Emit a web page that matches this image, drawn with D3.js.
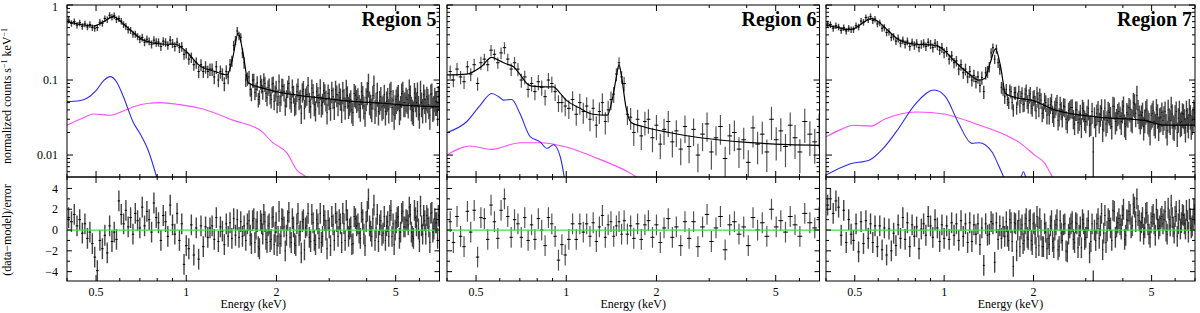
<!DOCTYPE html>
<html lang="en">
<head>
  <meta charset="UTF-8">
  <title>Spectra of regions 5, 6 and 7</title>
  <script src="https://cdn.jsdelivr.net/npm/d3@7"></script>
</head>

<style>
body { margin: 0; background: #fff; }
text { font-family: "Liberation Serif", "Times New Roman", serif; fill: #000; }
</style>

<body>

  <svg width="1200" height="313"></svg>

  <script>

    var regionNames = ["Region 5", "Region 6", "Region 7"];
    var xMajor = [0.5, 1, 2, 5];
    var yMajor = [0.01, 0.1, 1];
    var residTicks = [-4, -2, 0, 2, 4];

    // channel energies (keV); regions 5 and 7 share the finer grouping
    var fineEnergy = [
      0.405,0.414,0.423,0.432,0.441,0.45,0.459,0.468,0.477,0.486,
      0.495,0.505,0.515,0.525,0.535,0.545,0.555,0.565,0.575,0.585,
      0.596,0.607,0.618,0.629,0.64,0.652,0.664,0.676,0.688,0.70,
      0.713,0.726,0.739,0.752,0.766,0.78,0.794,0.808,0.823,0.838,
      0.853,0.868,0.884,0.90,0.916,0.932,0.949,0.966,0.983,1.0,
      1.02,1.04,1.06,1.08,1.1,1.12,1.14,1.16,1.18,1.2,
      1.22,1.24,1.26,1.28,1.3,1.32,1.34,1.36,1.38,1.4,
      1.42,1.44,1.46,1.48,1.5,1.52,1.54,1.56,1.58,1.6,
      1.62,1.65,1.68,1.71,1.74,1.77,1.8,1.83,1.86,1.89,
      1.92,1.95,1.98,2.01,2.04,2.07,2.1,2.14,2.18,2.22,
      2.26,2.3,2.34,2.38,2.42,2.46,2.5,2.55,2.6,2.65,
      2.7,2.75,2.8,2.85,2.9,2.95,3.0,3.06,3.12,3.18,
      3.24,3.3,3.36,3.42,3.48,3.54,3.6,3.67,3.74,3.81,
      3.88,3.95,4.02,4.09,4.16,4.23,4.3,4.38,4.46,4.54,
      4.62,4.7,4.78,4.86,4.94,5.02,5.1,5.19,5.28,5.37,
      5.46,5.55,5.64,5.73,5.82,5.91,6.0,6.1,6.2,6.3,
      6.4,6.5,6.6,6.7,6.8,6.9,6.98
    ];
    // extra channels above 1.6 keV, where the grouping is finer still
    var hardEnergy = [
      1.635,1.665,1.695,1.725,1.755,1.785,1.815,1.845,1.875,1.905,
      1.935,1.965,1.995,2.025,2.055,2.085,2.12,2.16,2.2,2.24,
      2.28,2.32,2.36,2.4,2.44,2.48,2.525,2.575,2.625,2.675,
      2.725,2.775,2.825,2.875,2.925,2.975,3.03,3.09,3.15,3.21,
      3.27,3.33,3.39,3.45,3.51,3.57,3.635,3.705,3.775,3.845,
      3.915,3.985,4.055,4.125,4.195,4.265,4.34,4.42,4.5,4.58,
      4.66,4.74,4.82,4.9,4.98,5.06,5.145,5.235,5.325,5.415,
      5.505,5.595,5.685,5.775,5.865,5.955,6.05,6.15,6.25,6.35,
      6.45,6.55,6.65,6.75,6.85,6.94
    ];

    var coarseEnergy = [
      0.41,0.42,0.432,0.444,0.456,0.468,0.48,0.493,0.506,0.519,
      0.533,0.547,0.561,0.576,0.591,0.606,0.622,0.638,0.655,0.672,
      0.69,0.708,0.727,0.746,0.766,0.786,0.807,0.828,0.85,0.872,
      0.895,0.918,0.942,0.967,0.992,1.02,1.05,1.08,1.11,1.14,
      1.17,1.2,1.23,1.26,1.29,1.32,1.35,1.38,1.41,1.44,
      1.47,1.5,1.53,1.56,1.6,1.64,1.68,1.73,1.78,1.83,
      1.88,1.94,2.0,2.06,2.12,2.19,2.26,2.33,2.41,2.49,
      2.57,2.66,2.75,2.85,2.95,3.05,3.16,3.27,3.39,3.51,
      3.64,3.77,3.91,4.05,4.2,4.35,4.51,4.67,4.84,5.02,
      5.2,5.39,5.59,5.8,6.02,6.25,6.5,6.75,6.98
    ];

    // Region 5: normalized counts s^-1 keV^-1, error (%), (data-model)/error
    var r5Counts = [
      0.63,0.57,0.60,0.54,0.58,0.52,0.56,0.51,0.55,0.50,
      0.49,0.50,0.59,0.57,0.66,0.64,0.73,0.69,0.72,0.64,
      0.66,0.61,0.55,0.52,0.47,0.46,0.41,0.41,0.38,0.35,
      0.37,0.32,0.35,0.33,0.30,0.34,0.32,0.32,0.28,0.33,
      0.32,0.29,0.34,0.31,0.28,0.32,0.27,0.28,0.22,0.23,
      0.19,0.20,0.16,0.17,0.13,0.16,0.13,0.15,0.13,0.14,
      0.14,0.11,0.15,0.10,0.13,0.12,0.09,0.13,0.11,0.16,
      0.18,0.29,0.34,0.45,0.39,0.37,0.23,0.17,0.10,0.105,
      0.11,0.065,0.10,0.075,0.055,0.095,0.07,0.09,0.058,0.085,
      0.055,0.09,0.068,0.048,0.095,0.06,0.082,0.045,0.078,0.056,
      0.08,0.045,0.07,0.055,0.036,0.075,0.06,0.085,0.044,0.068,
      0.04,0.062,0.078,0.05,0.067,0.037,0.058,0.072,0.043,0.064,
      0.068,0.04,0.057,0.076,0.045,0.055,0.037,0.063,0.058,0.042,
      0.062,0.036,0.07,0.052,0.042,0.085,0.05,0.038,0.06,0.046,
      0.038,0.058,0.066,0.043,0.034,0.055,0.063,0.045,0.07,0.05,
      0.055,0.075,0.044,0.038,0.058,0.068,0.035,0.05,0.064,0.042,
      0.056,0.034,0.066,0.045,0.052,0.038,0.06
    ];
    var r5Err = [
      10,10,10,10,10,10,10,10,10,10, 10,10,10,10,10,10,10,10,10,10,
      10,10,10,11,11,11,11,11,11,12, 12,12,12,12,12,13,13,13,13,13,
      13,13,14,14,14,14,15,15,15,16, 16,16,17,17,18,18,18,19,19,19,
      19,20,20,20,20,20,21,21,20,19, 17,15,14,13,13,14,15,17,19,20,
      20,20,21,21,22,22,22,23,23,23, 24,24,24,25,25,25,26,26,26,27,
      27,27,28,28,28,29,29,29,30,30, 30,30,31,31,31,31,32,32,32,32,
      32,33,33,33,33,33,34,34,34,34, 34,34,34,35,35,35,35,35,35,35,
      35,35,36,36,36,36,36,36,36,36, 36,36,36,36,36,36,36,36,36,36,
      36,36,36,36,36,36,36
    ];
    var r5Resid = [
      1.2,0.8,1.5,0.4,1.0,-0.3,0.6,-0.8,-0.2,-1.3,
      -2.6,-3.9,-1.0,-1.8,-0.5,-2.2,0.4,-1.1,-0.2,-0.9,
      2.8,1.5,0.6,1.9,0.3,1.2,-0.4,1.6,0.9,0.2,
      2.2,0.4,1.8,1.0,-0.2,2.6,1.2,0.7,-1.0,1.4,
      0.8,-0.6,2.4,0.5,-0.4,1.6,-1.0,0.6,-3.3,-1.5,
      -1.8,0.5,-2.4,0.2,-2.8,0.4,-1.6,0.3,-0.7,0.2,
      0.4,-0.9,1.2,-1.1,0.3,-0.1,-1.4,0.6,-0.6,0.7,
      -0.8,1.1,-0.5,1.0,-0.7,0.8,-0.6,0.4,-1.0,0.6,
      0.9,-1.3,1.1,0.1,-1.6,0.9,-0.4,0.8,-1.2,0.6,
      -0.9,1.3,-0.2,-1.5,1.8,-0.6,1.0,-2.0,0.9,-0.7,
      1.1,-1.3,0.6,-0.5,-2.2,1.0,0.2,1.6,-1.1,0.7,
      -1.4,0.6,1.6,-0.6,0.9,-1.8,0.2,1.3,-1.0,0.8,
      1.0,-1.2,0.6,1.9,-0.6,0.3,-1.3,1.1,0.6,-0.8,
      1.0,-1.5,1.8,0.4,-0.6,2.4,0.2,-1.1,0.9,-0.3,
      -1.0,0.8,1.4,-0.6,-1.4,0.7,1.3,-0.2,1.8,0.3,
      0.9,2.2,-0.2,-0.8,1.2,1.8,-1.1,0.4,1.4,-0.4,
      1.1,-1.2,1.7,0.1,0.7,-0.8,1.3
    ];
    var r5HardCounts = [
      0.075,0.1,0.068,0.092,0.06,0.085,0.1,0.066,0.08,0.062,
      0.088,0.052,0.078,0.06,0.05,0.083,0.07,0.058,0.09,0.05,
      0.066,0.048,0.082,0.058,0.07,0.042,0.064,0.052,0.078,0.047,
      0.07,0.05,0.046,0.072,0.055,0.066,0.042,0.06,0.074,0.049,
      0.058,0.071,0.044,0.062,0.05,0.04,0.066,0.055,0.047,0.07,
      0.045,0.058,0.09,0.047,0.062,0.04,0.068,0.053,0.044,0.064,
      0.052,0.041,0.07,0.054,0.046,0.06,0.039,0.066,0.05,0.058,
      0.048,0.062,0.04,0.067,0.05,0.045,0.072,0.041,0.055,0.06,
      0.047,0.064,0.043,0.058,0.052,0.061
    ];
    var r5HardErr = [
      20,21,21,22,22,22,23,23,23,24, 24,24,25,25,25,26,26,26,27,27,
      27,28,28,28,29,29,29,30,30,30, 30,31,31,31,31,32,32,32,32,33,
      33,33,33,33,33,34,34,34,34,34, 34,34,35,35,35,35,35,35,35,35,
      35,36,36,36,36,36,36,36,36,36, 36,36,36,36,36,36,36,36,36,36,
      36,36,36,36,36,36
    ];
    var r5HardResid = [
      -0.5,0.9,-1.2,0.8,-1.8,0.6,1.5,-0.9,0.4,-1.1,
      1.2,-1.4,0.7,-0.6,-1.3,1.1,0.3,-0.5,1.7,-1.2,
      0.3,-1.5,1.6,-0.1,0.8,-1.9,0.4,-0.7,1.5,-1.0,
      1.0,-0.8,-1.2,1.4,0.0,0.9,-1.5,0.5,1.6,-0.6,
      0.6,1.6,-1.0,1.0,0.1,-1.4,1.3,0.4,-0.3,1.7,
      -0.4,0.8,3.0,-0.1,1.1,-1.0,1.5,0.5,-0.5,1.3,
      0.4,-0.6,1.9,0.6,0.0,1.2,-0.8,1.6,0.3,1.0,
      0.5,1.5,-0.6,1.9,0.4,0.1,2.3,-0.4,0.9,1.4,
      0.3,1.6,-0.2,1.1,0.7,1.4
    ];
    // model curves [keV, value]: total, soft (blue) and hot (magenta) components
    var r5Model = [[0.40,0.60],[0.45,0.545],[0.49,0.525],[0.53,0.60],[0.57,0.70],[0.62,0.55],[0.67,0.42],
      [0.72,0.34],[0.78,0.31],[0.85,0.30],[0.92,0.30],[1.0,0.24],[1.11,0.155],[1.25,0.13],[1.37,0.117],
      [1.43,0.2],[1.49,0.42],[1.55,0.22],[1.61,0.092],[1.8,0.078],[2.0,0.070],[2.34,0.063],[3.0,0.056],
      [3.8,0.051],[4.56,0.049],[5.5,0.046],[7.0,0.044]];
    var r5Soft = [[0.40,0.0515],[0.44,0.053],[0.466,0.057],[0.50,0.072],[0.53,0.098],[0.557,0.111],
      [0.585,0.095],[0.617,0.06],[0.667,0.0267],[0.70,0.0195],[0.75,0.011],[0.80,0.0048]];
    var r5Hot = [[0.40,0.025],[0.45,0.031],[0.49,0.0352],[0.557,0.034],[0.62,0.039],[0.667,0.044],
      [0.75,0.049],[0.818,0.050],[0.95,0.047],[1.11,0.042],[1.44,0.029],[1.79,0.0205],[1.93,0.015],
      [2.17,0.0106],[2.34,0.0063],[2.5,0.0052],[2.63,0.0047]];

    // Region 6
    var r6Counts = [
      0.13,0.10,0.14,0.11,0.095,0.15,0.12,0.16,0.09,0.17,
      0.19,0.16,0.25,0.22,0.17,0.23,0.27,0.19,0.14,0.17,
      0.14,0.10,0.11,0.075,0.09,0.07,0.095,0.08,0.06,0.10,
      0.09,0.07,0.05,0.05,0.045,0.042,0.055,0.035,0.05,0.038,
      0.045,0.03,0.042,0.025,0.038,0.05,0.028,0.04,0.055,0.065,
      0.12,0.17,0.11,0.09,0.035,0.032,0.02,0.03,0.018,0.028,
      0.03,0.017,0.025,0.014,0.022,0.028,0.015,0.021,0.012,0.024,
      0.013,0.022,0.01,0.019,0.026,0.011,0.017,0.024,0.009,0.018,
      0.02,0.012,0.016,0.008,0.023,0.014,0.019,0.011,0.03,0.016,
      0.021,0.013,0.025,0.017,0.011,0.028,0.019,0.015,0.024
    ];
    var r6Err = [
      20,20,20,20,20,20,20,20,20,20, 18,18,17,17,17,18,18,18,19,19,
      20,21,21,22,22,23,23,23,24,24, 24,25,25,26,27,28,29,30,31,31,
      31,31,32,32,32,33,33,32,28,24, 20,18,19,22,28,32,34,34,35,35,
      36,36,37,37,38,38,38,39,39,40, 40,40,41,41,42,42,42,43,43,44,
      44,44,45,45,45,46,46,46,47,47, 47,47,48,48,48,48,49,49,49
    ];
    var r6Resid = [
      0.8,-1.2,1.3,-0.6,-1.6,1.8,-0.2,1.9,-2.6,1.2,
      1.1,-0.9,2.4,0.8,-0.8,1.9,3.0,1.3,-0.7,1.0,
      0.6,-0.7,1.2,-1.0,0.5,-0.9,1.1,0.0,-1.5,1.2,
      0.6,-0.6,-2.9,-1.4,-2.4,-0.9,0.6,-0.9,0.6,-0.2,
      0.6,-0.6,0.7,-1.1,0.3,1.4,-0.7,0.5,0.8,-0.6,
      0.4,0.8,-0.4,0.9,-0.4,0.4,-0.8,0.6,-0.9,0.5,
      0.9,-0.7,0.5,-1.2,0.2,1.1,-0.7,0.3,-1.5,0.8,
      -0.8,0.8,-1.6,0.3,1.5,-1.1,0.2,1.3,-1.9,0.5,
      0.8,-0.4,0.3,-1.5,1.2,0.0,0.7,-0.6,2.0,0.3,
      0.9,-0.2,1.3,0.5,-0.6,1.6,0.7,0.2,1.2
    ];
    var r6Model = [[0.40,0.117],[0.466,0.12],[0.52,0.15],[0.564,0.20],[0.60,0.18],[0.63,0.165],[0.667,0.15],
      [0.70,0.12],[0.739,0.09],[0.77,0.083],[0.85,0.081],[0.906,0.081],[0.95,0.068],[1.0,0.054],[1.1,0.043],
      [1.23,0.035],[1.37,0.034],[1.43,0.06],[1.47,0.11],[1.5,0.16],[1.53,0.11],[1.58,0.045],[1.65,0.027],
      [1.8,0.024],[2.2,0.02],[2.8,0.017],[4.0,0.0148],[5.5,0.0138],[7.0,0.0135]];
    var r6Soft = [[0.40,0.02],[0.466,0.028],[0.516,0.046],[0.564,0.066],[0.595,0.06],[0.617,0.054],
      [0.658,0.055],[0.70,0.036],[0.758,0.0176],[0.818,0.015],[0.862,0.0123],[0.906,0.0137],[0.955,0.0095],
      [0.99,0.0045]];
    var r6Hot = [[0.40,0.01],[0.478,0.0132],[0.564,0.0119],[0.70,0.0146],[0.818,0.0146],[1.0,0.0128],
      [1.23,0.0095],[1.64,0.0057],[1.8,0.0045]];

    // Region 7
    var r7Counts = [
      0.56,0.55,0.49,0.53,0.51,0.46,0.50,0.45,0.49,0.47,
      0.47,0.53,0.51,0.61,0.59,0.68,0.64,0.70,0.62,0.65,
      0.56,0.58,0.49,0.50,0.43,0.44,0.37,0.38,0.33,0.36,
      0.31,0.34,0.30,0.33,0.28,0.32,0.29,0.31,0.27,0.30,
      0.31,0.28,0.32,0.30,0.27,0.31,0.29,0.25,0.27,0.23,
      0.24,0.19,0.21,0.17,0.18,0.14,0.16,0.125,0.14,0.11,
      0.13,0.10,0.115,0.095,0.11,0.085,0.108,0.07,0.125,0.13,
      0.15,0.23,0.27,0.19,0.26,0.17,0.14,0.08,0.076,0.06,
      0.075,0.05,0.07,0.04,0.068,0.057,0.045,0.066,0.048,0.072,
      0.046,0.066,0.042,0.06,0.039,0.056,0.062,0.036,0.054,0.034,
      0.034,0.052,0.032,0.046,0.029,0.047,0.032,0.044,0.027,0.041,
      0.043,0.026,0.04,0.03,0.024,0.039,0.028,0.042,0.026,0.011,
      0.025,0.04,0.035,0.022,0.042,0.029,0.037,0.024,0.044,0.031,
      0.038,0.028,0.045,0.024,0.035,0.041,0.03,0.048,0.062,0.034,
      0.034,0.024,0.039,0.029,0.021,0.036,0.028,0.041,0.024,0.032,
      0.029,0.038,0.021,0.031,0.044,0.025,0.034,0.02,0.039,0.028,
      0.035,0.023,0.031,0.041,0.025,0.032,0.037
    ];
    var r7Err = [
      10,10,10,10,10,10,10,10,10,10, 10,10,10,10,10,10,10,10,10,10,
      10,10,10,11,11,11,11,11,11,12, 12,12,12,12,12,12,13,13,13,13,
      13,13,13,14,14,14,14,14,15,15, 15,15,16,16,16,17,17,17,18,18,
      18,18,19,19,19,20,20,20,19,18, 16,15,14,14,14,15,16,18,19,20,
      18,18,19,19,20,20,20,21,21,21, 22,22,23,23,23,24,24,24,25,25,
      25,26,26,26,27,27,27,28,28,28, 29,29,29,30,30,30,30,31,31,60,
      31,31,32,32,32,32,33,33,33,33, 33,34,34,34,34,34,35,35,35,35,
      35,35,35,35,36,36,36,36,36,36, 36,36,36,36,36,36,36,36,36,36,
      36,36,36,36,36,36,36
    ];
    var r7Resid = [
      2.4,3.0,1.6,2.8,2.2,-0.5,1.9,-1.2,1.0,-0.4,
      -1.0,0.6,-2.1,0.8,-1.3,0.9,-0.8,0.6,-1.2,0.4,
      -1.6,0.4,-1.9,0.2,-2.4,0.1,-2.0,-0.3,-1.5,0.5,
      -0.8,1.2,-0.9,0.7,-1.6,0.5,-0.6,0.3,-1.8,0.1,
      0.6,-0.5,1.3,0.4,-0.7,1.0,0.2,-1.1,0.5,-0.8,
      0.4,-0.9,0.7,-0.5,0.6,-1.0,0.9,-0.6,0.6,-1.2,
      0.7,-1.1,0.5,-0.4,0.6,-1.4,0.2,-3.4,0.6,-0.5,
      -0.4,0.8,0.6,-3.1,0.7,-0.9,0.4,-0.8,0.3,-0.6,
      0.8,-1.0,0.7,-3.5,0.6,0.0,-1.6,0.5,-1.0,1.1,
      -0.9,1.0,-1.4,0.7,-1.7,0.3,1.1,-1.6,0.6,-1.8,
      -1.4,0.9,-1.7,0.5,-1.9,0.9,-1.0,0.6,-2.1,0.2,
      0.8,-1.2,0.6,-0.5,-1.7,0.6,-0.7,0.9,-1.1,-4.9,
      -1.0,1.1,0.4,-1.9,1.4,-0.1,0.9,-1.0,1.8,0.3,
      1.1,0.1,2.0,-0.5,0.9,1.5,0.4,2.2,3.0,0.9,
      0.7,-0.4,1.6,0.5,-0.7,1.3,0.6,2.0,0.1,1.1,
      0.6,1.8,-0.4,1.0,2.4,0.3,1.3,-0.6,1.9,0.7,
      1.4,0.1,0.9,2.0,0.2,1.0,1.5
    ];
    var r7HardCounts = [
      0.055,0.074,0.05,0.068,0.043,0.07,0.06,0.047,0.065,0.052,
      0.062,0.045,0.058,0.05,0.066,0.042,0.054,0.04,0.05,0.046,
      0.047,0.036,0.042,0.05,0.033,0.04,0.045,0.03,0.039,0.043,
      0.031,0.04,0.027,0.036,0.042,0.03,0.035,0.025,0.038,0.033,
      0.036,0.028,0.042,0.03,0.026,0.039,0.033,0.045,0.028,0.036,
      0.033,0.04,0.026,0.037,0.043,0.031,0.05,0.036,0.04,0.029,
      0.037,0.03,0.041,0.027,0.034,0.039,0.026,0.035,0.031,0.037,
      0.033,0.026,0.04,0.029,0.035,0.024,0.038,0.031,0.027,0.036,
      0.03,0.039,0.026,0.034,0.029,0.04
    ];
    var r7HardErr = [
      18,18,19,19,20,20,20,21,21,21, 22,22,23,23,23,24,24,24,25,25,
      25,26,26,26,27,27,27,28,28,28, 29,29,29,30,30,30,30,31,31,31,
      31,31,32,32,32,32,33,33,33,33, 33,34,34,34,34,34,35,35,35,35,
      35,35,35,35,36,36,36,36,36,36, 36,36,36,36,36,36,36,36,36,36,
      36,36,36,36,36,36
    ];
    var r7HardResid = [
      -0.6,1.0,-1.1,0.7,-2.0,0.9,0.1,-1.3,0.6,-0.7,
      0.9,-1.0,0.6,-0.4,1.3,-1.5,0.0,-1.6,-0.2,-0.8,
      0.4,-1.1,0.0,1.0,-1.6,-0.3,0.5,-2.0,-0.4,0.6,
      -0.9,0.7,-1.7,0.3,1.0,-0.9,0.2,-2.2,0.6,0.0,
      0.6,-0.8,1.6,-0.3,-1.2,1.1,0.2,1.9,-0.7,0.7,
      0.5,1.4,-0.9,1.0,1.8,0.2,2.5,0.8,1.4,-0.1,
      1.2,0.2,1.7,-0.4,0.7,1.5,-0.5,1.0,0.4,1.3,
      1.0,-0.1,2.1,0.4,1.2,-0.3,1.8,0.6,0.1,1.5,
      0.6,1.9,-0.2,1.1,0.4,2.0
    ];
    var r7Model = [[0.40,0.54],[0.44,0.50],[0.47,0.47],[0.50,0.49],[0.54,0.60],[0.568,0.66],[0.60,0.60],
      [0.65,0.45],[0.707,0.34],[0.80,0.30],[0.913,0.293],[0.98,0.266],[1.09,0.175],[1.2,0.125],[1.31,0.10],
      [1.37,0.105],[1.43,0.17],[1.49,0.26],[1.55,0.15],[1.61,0.066],[1.75,0.058],[1.97,0.054],[2.36,0.040],
      [3.3,0.032],[4.72,0.029],[5.5,0.025],[7.0,0.025]];
    var r7Soft = [[0.40,0.0054],[0.481,0.0076],[0.561,0.0086],[0.62,0.012],[0.69,0.0205],[0.804,0.049],
      [0.926,0.0735],[1.01,0.06],[1.12,0.0263],[1.24,0.0143],[1.31,0.0146],[1.45,0.011],[1.52,0.0075],
      [1.61,0.0045],[1.7,0.003],[1.8,0.0045],[1.85,0.006],[1.9,0.0045],[2.0,0.003]];
    var r7Hot = [[0.40,0.0175],[0.45,0.022],[0.494,0.025],[0.568,0.0243],[0.63,0.03],[0.707,0.035],
      [0.804,0.0375],[0.9,0.037],[1.01,0.035],[1.27,0.0263],[1.61,0.0185],[1.78,0.015],[2.02,0.01],
      [2.18,0.0078],[2.33,0.005],[2.45,0.0042]];

    var panels = [
      {name: regionNames[0], left: 67, right: 439.5,
       sets: [[fineEnergy, r5Counts, r5Err, r5Resid], [hardEnergy, r5HardCounts, r5HardErr, r5HardResid]],
       model: r5Model, soft: r5Soft, hot: r5Hot},
      {name: regionNames[1], left: 447, right: 819.5,
       sets: [[coarseEnergy, r6Counts, r6Err, r6Resid]],
       model: r6Model, soft: r6Soft, hot: r6Hot},
      {name: regionNames[2], left: 826, right: 1195,
       sets: [[fineEnergy, r7Counts, r7Err, r7Resid], [hardEnergy, r7HardCounts, r7HardErr, r7HardResid]],
       model: r7Model, soft: r7Soft, hot: r7Hot}
    ];

    var topY0 = 5, midY = 177, botY = 281;
    var yTop = d3.scaleLog().domain([0.0051, 1]).range([midY, topY0]);
    var yRes = d3.scaleLinear().domain([-4.9, 5.1]).range([botY, midY]);

    var svg = d3.select('svg');
    var defs = svg.append('defs');

    function isMajor(v, list) {
      return list.some(function(m) { return Math.abs(v / m - 1) < 1e-6; });
    }

    panels.forEach(function(p, i) {
      var x = d3.scaleLog().domain([0.4, 7.0]).range([p.left, p.right]);
      var w = p.right - p.left;
      var barWidth = i === 1 ? 1.2 : 1.4;
      var barColor = i === 1 ? '#555' : '#444';

      defs.append('clipPath').attr('id', 'clipTop' + i).append('rect')
        .attr('x', p.left).attr('y', topY0).attr('width', w).attr('height', midY - topY0);
      defs.append('clipPath').attr('id', 'clipRes' + i).append('rect')
        .attr('x', p.left).attr('y', midY).attr('width', w).attr('height', botY - midY);

      var rows = [];
      p.sets.forEach(function(s) {
        s[0].forEach(function(e, k) {
          rows.push({e: e, c: s[1][k], err: s[2][k] / 100, r: s[3][k]});
        });
      });
      rows.sort(function(a, b) { return a.e - b.e; });
      rows.forEach(function(d, k) {
        var prev = k > 0 ? rows[k - 1].e : d.e * d.e / rows[k + 1].e;
        var next = k < rows.length - 1 ? rows[k + 1].e : d.e * d.e / rows[k - 1].e;
        d.lo = Math.sqrt(prev * d.e);
        d.hi = Math.sqrt(d.e * next);
      });

      var line = d3.line()
        .x(function(d) { return x(d[0]); })
        .y(function(d) { return yTop(d[1]); })
        .curve(d3.curveMonotoneX);

      // spectrum
      var top = svg.append('g').attr('clip-path', 'url(#clipTop' + i + ')');
      top.selectAll('line.ebar').data(rows).enter().append('line')
        .attr('class', 'ebar')
        .attr('x1', d => x(d.e)).attr('x2', d => x(d.e))
        .attr('y1', d => yTop(d.c * (1 - d.err))).attr('y2', d => yTop(d.c * (1 + d.err)))
        .attr('stroke', barColor).attr('stroke-width', barWidth);
      top.selectAll('line.bin').data(rows).enter().append('line')
        .attr('class', 'bin')
        .attr('x1', d => x(d.lo)).attr('x2', d => x(d.hi))
        .attr('y1', d => yTop(d.c)).attr('y2', d => yTop(d.c))
        .attr('stroke', '#000').attr('stroke-width', 1);
      top.append('path').datum(p.hot).attr('d', line)
        .attr('fill', 'none').attr('stroke', '#ff4dff').attr('stroke-width', 1.1);
      top.append('path').datum(p.soft).attr('d', line)
        .attr('fill', 'none').attr('stroke', '#2b2bf0').attr('stroke-width', 1.1);
      top.append('path').datum(p.model).attr('d', line)
        .attr('fill', 'none').attr('stroke', '#000').attr('stroke-width', 1.2);

      // residuals
      var res = svg.append('g').attr('clip-path', 'url(#clipRes' + i + ')');
      res.selectAll('line.ebar').data(rows).enter().append('line')
        .attr('class', 'ebar')
        .attr('x1', d => x(d.e)).attr('x2', d => x(d.e))
        .attr('y1', d => yRes(d.r - 1)).attr('y2', d => yRes(d.r + 1))
        .attr('stroke', barColor).attr('stroke-width', barWidth);
      res.selectAll('line.bin').data(rows).enter().append('line')
        .attr('class', 'bin')
        .attr('x1', d => x(d.lo)).attr('x2', d => x(d.hi))
        .attr('y1', d => yRes(d.r)).attr('y2', d => yRes(d.r))
        .attr('stroke', '#000').attr('stroke-width', 1);
      res.append('line')
        .attr('x1', p.left).attr('x2', p.right)
        .attr('y1', yRes(0)).attr('y2', yRes(0))
        .attr('stroke', '#3ee03e').attr('stroke-width', 1.2);

      // frames and ticks
      var axes = svg.append('g').attr('stroke', '#000').attr('stroke-width', 1).attr('fill', 'none');
      axes.append('rect').attr('x', p.left).attr('y', topY0).attr('width', w).attr('height', midY - topY0);
      axes.append('rect').attr('x', p.left).attr('y', midY).attr('width', w).attr('height', botY - midY);

      x.ticks().forEach(function(t) {
        var len = isMajor(t, xMajor) ? 6 : 3;
        var xx = x(t);
        [[topY0, 1], [midY, -1], [midY, 1], [botY, -1]].forEach(function(s) {
          axes.append('line').attr('x1', xx).attr('x2', xx)
            .attr('y1', s[0]).attr('y2', s[0] + s[1] * len);
        });
      });
      yTop.ticks().forEach(function(t) {
        var len = isMajor(t, yMajor) ? 6 : 3;
        var yy = yTop(t);
        axes.append('line').attr('x1', p.left).attr('x2', p.left + len).attr('y1', yy).attr('y2', yy);
        axes.append('line').attr('x1', p.right).attr('x2', p.right - len).attr('y1', yy).attr('y2', yy);
      });
      yRes.ticks(10).filter(t => t < 4.5).forEach(function(t) {
        var len = residTicks.indexOf(t) >= 0 ? 5 : 3;
        var yy = yRes(t);
        axes.append('line').attr('x1', p.left).attr('x2', p.left + len).attr('y1', yy).attr('y2', yy);
        axes.append('line').attr('x1', p.right).attr('x2', p.right - len).attr('y1', yy).attr('y2', yy);
      });

      // labels
      svg.append('g').selectAll('text').data(xMajor).enter().append('text')
        .attr('x', d => x(d)).attr('y', 292).attr('dy', '0.35em')
        .attr('text-anchor', 'middle').style('font-size', '12px')
        .text(d => d);
      svg.append('text')
        .attr('x', (p.left + p.right) / 2).attr('y', 308)
        .attr('text-anchor', 'middle').style('font-size', '12px')
        .text('Energy (keV)');
      svg.append('text')
        .attr('x', p.right - 3).attr('y', 26)
        .attr('text-anchor', 'end').style('font-size', '20px').style('font-weight', 'bold')
        .text(p.name);

      if (i === 0) {
        // the "1" sits at the very top edge, nudge it down so it stays whole
        svg.append('g').selectAll('text').data(yMajor).enter().append('text')
          .attr('x', p.left - 9).attr('y', d => Math.max(yTop(d), 7)).attr('dy', '0.35em')
          .attr('text-anchor', 'end').style('font-size', '12px')
          .text(d => d);
        svg.append('g').selectAll('text').data(residTicks).enter().append('text')
          .attr('x', p.left - 9).attr('y', d => yRes(d)).attr('dy', '0.35em')
          .attr('text-anchor', 'end').style('font-size', '12px')
          .text(d => d3.format('d')(d));
      }
    });

    var t1 = svg.append('text')
      .attr('transform', 'translate(11,96) rotate(-90)')
      .attr('text-anchor', 'middle').style('font-size', '12px');
    t1.append('tspan').text('normalized counts s');
    t1.append('tspan').attr('dy', -4).style('font-size', '8px').text('\u22121');
    t1.append('tspan').attr('dy', 4).text(' keV');
    t1.append('tspan').attr('dy', -4).style('font-size', '8px').text('\u22121');

    svg.append('text')
      .attr('transform', 'translate(11,230) rotate(-90)')
      .attr('text-anchor', 'middle').style('font-size', '12px')
      .text('(data\u2212model)/error');

  </script>

</body>
</html>
